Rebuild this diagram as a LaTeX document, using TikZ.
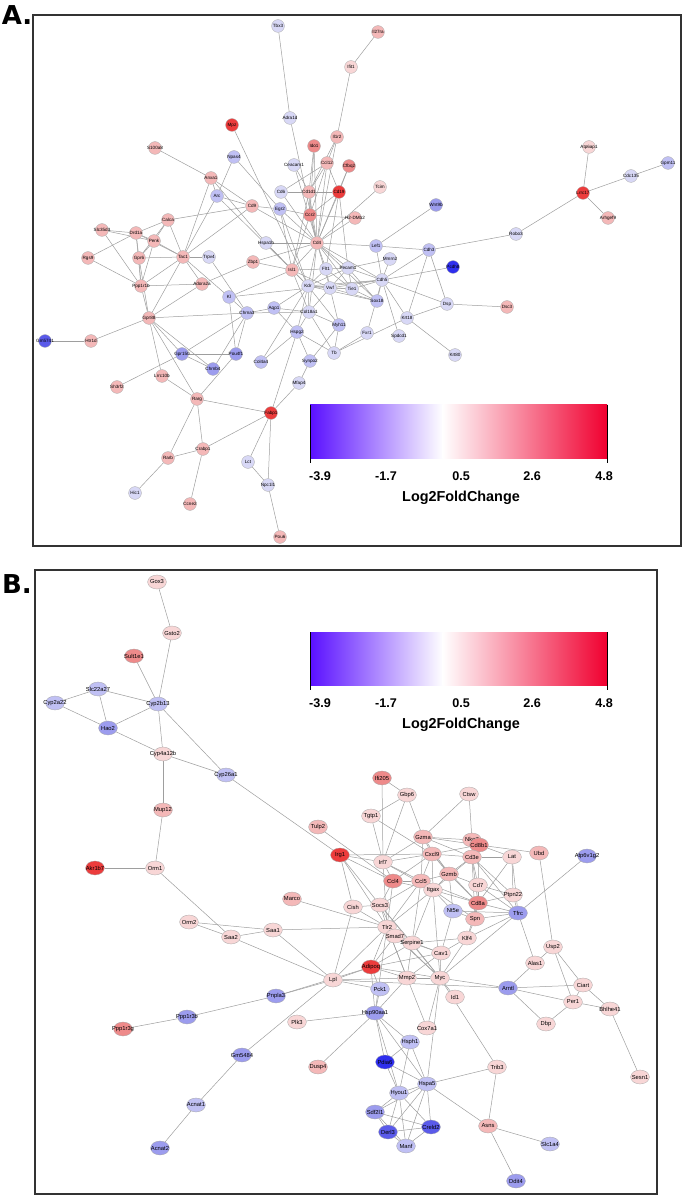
\documentclass[tikz,border=0pt]{standalone}
\usepackage{fontspec}
\setmainfont{Liberation Sans}
\newfontfamily\heavyfont{DejaVu Sans}
\usetikzlibrary{shapes.geometric,backgrounds}
\definecolor{rA}{HTML}{F8D6D6}
\definecolor{rB}{HTML}{F4B8B8}
\definecolor{rC}{HTML}{EE8A8A}
\definecolor{rD}{HTML}{EC3C3C}
\definecolor{bA}{HTML}{D8D8F6}
\definecolor{bB}{HTML}{C0C0F4}
\definecolor{bC}{HTML}{9C9CEE}
\definecolor{bD}{HTML}{5A5AEA}
\definecolor{bE}{HTML}{2E2EEE}
\definecolor{edgegray}{HTML}{9E9E9E}
\definecolor{cbblue}{HTML}{5A10FF}
\definecolor{cbred}{HTML}{F00030}
\tikzset{
  gna/.style={circle,draw=black!35,line width=0.15pt,minimum size=6.4pt,inner sep=0pt},
  gnb/.style={ellipse,draw=black!35,line width=0.15pt,minimum width=9.4pt,minimum height=7pt,inner sep=0pt},
  lbla/.style={font=\fontsize{2.3}{2.5}\selectfont,inner sep=0pt},
  lblb/.style={font=\fontsize{2.9}{3.1}\selectfont,inner sep=0pt},
  edge/.style={draw=edgegray,line width=0.25pt},
  frame/.style={draw=black!80,line width=0.6pt},
  panellabel/.style={font=\heavyfont\bfseries\fontsize{13}{13}\selectfont,inner sep=0pt},
  ticklab/.style={font=\bfseries\fontsize{6.3}{7}\selectfont,inner sep=0pt},
  cbtitle/.style={font=\bfseries\fontsize{7.2}{8}\selectfont,inner sep=0pt},
}
\begin{document}
\begin{tikzpicture}[x=0.5pt,y=-0.5pt]
\useasboundingbox (0,0) rectangle (685,1197);
\node[panellabel] (labA) at (17,15) {A.};
\node[panellabel] (labB) at (17,584) {B.};
\draw[frame] (33,15) rectangle (681,546);
\draw[frame] (35,570) rectangle (657,1194);

% ---------- colour bars ----------
\foreach \yt/\nm in {405/A,632/B}{
  \shade[left color=cbblue,right color=white] (310,\yt) rectangle (443,\yt+53);
  \shade[left color=white,right color=cbred] (442.5,\yt) rectangle (607,\yt+53);
  \draw[black,line width=0.5pt] (310,\yt) -- (310,\yt+58);
  \draw[black,line width=0.5pt] (607,\yt) -- (607,\yt+58);
  \node[ticklab] (t1\nm) at (320,\yt+71) {-3.9};
  \node[ticklab] (t2\nm) at (386,\yt+71) {-1.7};
  \node[ticklab] (t3\nm) at (461,\yt+71) {0.5};
  \node[ticklab] (t4\nm) at (532,\yt+71) {2.6};
  \node[ticklab] (t5\nm) at (604,\yt+71) {4.8};
  \node[cbtitle] (ct\nm) at (461,\yt+93) {Log2FoldChange};
}

% ---------- panel A nodes ----------
\foreach \n/\xx/\yy/\c/\t in {
Tbx3/278/26/bA/Tbx3, Adra1d/290/118/bA/Adra1d, Il27ra/378/32/rB/Il27ra, Ifit1/351/67/rA/Ifit1,
Mpz/232/125/rD/Mpz, S100a8/155/148/rB/S100a8, Npas4/234/157/bB/Npas4, Ceacam1/294/165/bA/Ceacam1,
Ido1/314/146/rC/Ido1, Ccl12/327/163/rB/Ccl12, Il1r2/337/137/rB/Il1r2, Cfbq2/349/166/rC/Cfbq2,
Anxa1/211/178/rB/Anxa1, Cd6/281/192/bA/Cd6, Cd1d1/309/192/rB/Cd1d1, Cd19/339/192/rD/Cd19,
Arc/217/196/bB/Arc, Tcim/380/187/rA/Tcim, Cd9/252/206/rB/Cd9, Egr2/280/209/bB/Egr2,
Ccr2/310/215/rC/Ccr2, H2DMb2/355/218/rB/H2-DMb2, Wnt9b/436/205/bC/Wnt9b, Hspa1b/266/243/bA/Hspa1b,
Cd4/317/243/rB/Cd4, Lef1/376/246/bB/Lef1, Cdh3/429/250/bB/Cdh3, Robo3/516/234/bA/Robo3,
Zbp1/253/262/rB/Zbp1, Isl1/292/270/rB/Isl1, Flt1/326/269/bA/Flt1, Pecam1/348/268/bA/Pecam1,
Mmrn2/390/259/bA/Mmrn2, Pcdh8/453/267/bE/Pcdh8, Kdr/308/286/bA/Kdr, Vwf/330/288/bA/Vwf,
Tie1/352/289/bA/Tie1, Cdh5/382/280/bA/Cdh5, Sox18/377/301/bB/Sox18, Dsp/447/304/bA/Dsp,
Dsc3/507/307/rB/Dsc3, Aqp1/274/308/bB/Aqp1, Col18a1/309/312/bA/Col18a1, Chrna3/247/313/bB/Chrna3,
Myh11/339/325/bB/Myh11, Krt18/407/318/bA/Krt18, Hspg2/297/332/bB/Hspg2, Fxr1/367/333/bA/Fxr1,
Spdcd1/399/336/bA/Spdcd1, Krt80/455/355/bA/Krt80, Tb/334/353/bA/Tb, Pou4f1/236/354/bC/Pou4f1,
Col4a4/261/362/bB/Col4a4, Synpo2/310/361/bB/Synpo2, Mfap4/299/383/bA/Mfap4, Calca/168/220/rB/Calca,
Slc35d3/102/230/rB/Slc35d3, Drd1a/136/233/rB/Drd1a, Penk/154/241/rB/Penk, Rgs9/88/258/rB/Rgs9,
Gpr6/139/258/rB/Gpr6, Tac1/183/257/rB/Tac1, Trpv4/209/257/bA/Trpv4, Ppp1r1b/141/286/rB/Ppp1r1b,
Adora2a/202/284/rB/Adora2a, Kl/229/297/bB/Kl, Gpr88/149/318/rB/Gpr88, Gm5741/45/341/bD/Gm5741,
Htr1d/91/341/rB/Htr1d, Gpr150/182/354/bC/Gpr150, Chrnb4/213/369/bC/Chrnb4, Lrrc10b/162/376/rB/Lrrc10b,
Sh3rf2/117/387/rB/Sh3rf2, Rarg/197/399/rB/Rarg, Fabp1/271/413/rD/Fabp1, Crabp1/203/449/rB/Crabp1,
Rarb/168/458/rB/Rarb, Lct/248/462/bA/Lct, Npc1l1/268/485/bA/Npc1l1, Hic1/135/493/bA/Hic1,
Ccne2/190/504/rB/Ccne2, Pou6/280/537/rB/Pou6, Lrrc17/583/193/rD/Lrrc17, Atp6ap1/589/147/rA/Atp6ap1,
Cdc135/631/176/bA/Cdc135, Arhgef9/608/218/rB/Arhgef9, Gpm11/668/163/bB/Gpm11}
  \node[gna,fill=\c,label={[lbla]center:\t}] (\n) at (\xx,\yy) {};

% ---------- panel B nodes ----------
\foreach \n/\xx/\yy/\c/\t in {
Gox3/157/582/rA/Gox3, Gsto2/172/633/rA/Gsto2, Sult1e1/134/656/rC/Sult1e1, Slc22a27/98/689/bB/Slc22a27,
Cyp2a22/55/703/bB/Cyp2a22, Cyp2b13/158/704/bB/Cyp2b13, Hao2/108/728/bC/Hao2, Cyp4a12b/163/754/rA/Cyp4a12b,
Cyp26a1/226/775/bB/Cyp26a1, Mup12/163/810/rB/Mup12, Orm1/155/868/rA/Orm1, Akr1b7/95/868/rD/Akr1b7,
Orm2/189/922/rA/Orm2, Saa2/231/937/rA/Saa2, Saa1/273/930/rA/Saa1, Marco/292/899/rB/Marco,
Tulp2/318/827/rB/Tulp2, Irg1/340/855/rD/Irg1, Lpl/333/980/rA/Lpl, Pnpla3/276/996/bC/Pnpla3,
Ppp1r3b/187/1017/bC/Ppp1r3b, Ppp1r3g/123/1029/rC/Ppp1r3g, Plk3/297/1022/rA/Plk3, Gm5484/242/1055/bC/Gm5484,
Acnat1/196/1105/bB/Acnat1, Acnat2/160/1148/bC/Acnat2, Ifi205/382/778/rC/Ifi205, Gbp6/407/795/rA/Gbp6,
Ctsw/469/794/rA/Ctsw, Tgtp1/371/816/rA/Tgtp1, Gzma/423/837/rB/Gzma, Nkg7/472/840/rB/Nkg7,
Cd8b1/479/845/rC/Cd8b1, Irf7/383/862/rA/Irf7, Cxcl9/432/854/rB/Cxcl9, Cd3e/472/857/rB/Cd3e,
Lat/512/857/rA/Lat, Ubd/539/853/rB/Ubd, Atp6v1g2/587/856/bC/Atp6v1g2, Gzmb/449/874/rB/Gzmb,
Ccl4/393/881/rC/Ccl4, Ccl5/421/881/rB/Ccl5, Cd7/478/885/rA/Cd7, Itgax/433/890/rA/Itgax,
Ptpn22/513/895/rA/Ptpn22, Cd8a/478/903/rC/Cd8a, Cish/353/907/rA/Cish, Socs3/380/905/rA/Socs3,
Nt5e/453/911/bB/Nt5e, Tfrc/518/913/bC/Tfrc, Spn/475/919/rB/Spn, Tlr2/387/927/rA/Tlr2,
Smad7/395/936/rA/Smad7, Serpine1/412/943/rA/Serpine1, Klf4/467/938/rA/Klf4, Usp2/553/947/rA/Usp2,
Cav1/441/953/rA/Cav1, Alas1/535/963/rA/Alas1, Adipoq/371/967/rD/Adipoq, Mmp2/407/978/rA/Mmp2,
Myc/440/978/rA/Myc, Arntl/508/988/bC/Arntl, Pck1/380/989/bB/Pck1, Ciart/583/985/rA/Ciart,
Id1/455/997/rA/Id1, Per1/573/1002/rA/Per1, Bhlhe41/610/1009/rA/Bhlhe41, Hsp90aa1/375/1013/bC/Hsp90aa1,
Dbp/546/1024/rA/Dbp, Cox7a1/427/1028/rA/Cox7a1, Hsph1/410/1042/bB/Hsph1, Sesn1/640/1077/rA/Sesn1,
Dusp4/318/1067/rB/Dusp4, Pdia6/385/1062/bE/Pdia6, Trib3/497/1067/rA/Trib3, Hspa5/427/1084/bB/Hspa5,
Hyou1/399/1093/bB/Hyou1, Sdf2l1/375/1112/bC/Sdf2l1, Creld2/431/1127/bD/Creld2, Asns/488/1126/rB/Asns,
Derl3/388/1132/bD/Derl3, Manf/406/1146/bB/Manf, Slc1a4/550/1144/bB/Slc1a4, Ddit4/516/1181/bC/Ddit4}
  \node[gnb,fill=\c,label={[lblb]center:\t}] (\n) at (\xx,\yy) {};

\begin{pgfonlayer}{background}
% ---------- panel A edges ----------
\foreach \a/\b in {
Tbx3/Adra1d, Adra1d/Cd4, Il27ra/Ifit1, Ifit1/Il1r2, Il1r2/Ccl12, Il1r2/Cd1d1, Il1r2/Cd4, Mpz/Kdr,
S100a8/Anxa1, Npas4/Arc, Npas4/Egr2, Anxa1/Cd9, Anxa1/Hspa1b, Anxa1/Tac1, Anxa1/Arc,
Ceacam1/Cd4, Ceacam1/Cd1d1, Ido1/Cd4, Ido1/Cd1d1, Ido1/Ccr2, Ccl12/Cd6, Ccl12/Cd1d1, Ccl12/Cd4,
Ccl12/Ccr2, Ccl12/Cd19, Cfbq2/Cd19, Cfbq2/Cd4, Cd19/Cd1d1, Cd19/Ccr2, Cd19/Cd4, Cd19/Pecam1, Cd19/Flt1,
Cd6/Cd4, Cd6/Cd1d1, Cd1d1/Cd4, Cd1d1/Ccr2, Cd1d1/Isl1, Ccr2/Cd4, Ccr2/Egr2, Ccr2/Isl1, Tcim/Cd4,
H2DMb2/Cd4, H2DMb2/Ccr2, Arc/Cd9, Arc/Tac1, Arc/Isl1, Cd9/Egr2, Cd9/Cd4, Cd9/Calca, Cd9/Tac1,
Egr2/Cd4, Egr2/Isl1, Egr2/Kdr, Wnt9b/Lef1, Hspa1b/Cd4, Hspa1b/Isl1, Hspa1b/Kdr, Cd4/Lef1, Cd4/Isl1,
Cd4/Flt1, Cd4/Pecam1, Cd4/Kdr, Cd4/Cdh5, Cd4/Zbp1, Cd4/Vwf, Cd4/Tie1, Cd4/Col18a1, Cd4/Sox18,
Lef1/Cdh3, Lef1/Cdh5, Cdh3/Robo3, Cdh3/Cdh5, Cdh3/Dsp, Cdh3/Krt18, Robo3/Lrrc17,
Lrrc17/Atp6ap1, Lrrc17/Cdc135, Lrrc17/Arhgef9, Cdc135/Gpm11, Zbp1/Isl1, Zbp1/Adora2a, Isl1/Flt1,
Isl1/Kdr, Isl1/Col18a1, Isl1/Vwf, Flt1/Pecam1, Flt1/Kdr, Flt1/Vwf, Flt1/Tie1, Pecam1/Mmrn2,
Pecam1/Kdr, Pecam1/Vwf, Pecam1/Tie1, Pecam1/Cdh5, Pecam1/Sox18, Mmrn2/Cdh5, Pcdh8/Cdh5, Kdr/Vwf,
Kdr/Tie1, Kdr/Cdh5, Kdr/Col18a1, Kdr/Aqp1, Kdr/Hspg2, Kdr/Sox18, Kdr/Myh11, Vwf/Tie1, Vwf/Cdh5,
Vwf/Myh11, Vwf/Col18a1, Vwf/Sox18, Tie1/Cdh5, Tie1/Sox18, Cdh5/Sox18, Cdh5/Dsp, Cdh5/Krt18,
Cdh5/Spdcd1, Cdh5/Fxr1, Kl/Cdh5, Dsp/Dsc3, Dsp/Krt18, Krt18/Krt80, Krt18/Tb, Aqp1/Chrna3,
Aqp1/Col18a1, Aqp1/Hspg2, Col18a1/Chrna3, Col18a1/Hspg2, Col18a1/Tb, Col18a1/Myh11, Chrna3/Kl,
Chrna3/Gpr88, Chrna3/Pou4f1, Chrna3/Chrnb4, Chrna3/Gpr150, Hspg2/Col4a4, Hspg2/Tb, Hspg2/Synpo2,
Myh11/Tb, Myh11/Synpo2, Fxr1/Tb, Synpo2/Mfap4, Mfap4/Fabp1, Hspg2/Fabp1,
Calca/Drd1a, Calca/Penk, Calca/Tac1, Calca/Gpr6, Slc35d3/Drd1a, Slc35d3/Penk, Slc35d3/Ppp1r1b,
Drd1a/Penk, Drd1a/Gpr6, Drd1a/Tac1, Drd1a/Rgs9, Drd1a/Ppp1r1b, Penk/Tac1, Penk/Gpr6, Penk/Ppp1r1b,
Rgs9/Ppp1r1b, Gpr6/Tac1, Gpr6/Ppp1r1b, Gpr6/Gpr88, Tac1/Ppp1r1b, Tac1/Trpv4, Tac1/Kl, Tac1/Gpr88,
Tac1/Adora2a, Trpv4/Chrna3, Ppp1r1b/Adora2a, Ppp1r1b/Gpr88, Adora2a/Gpr88, Gpr88/Htr1d,
Gpr88/Gpr150, Gpr88/Chrnb4, Gpr88/Lrrc10b, Gpr88/Rarg, Gm5741/Htr1d, Gpr150/Pou4f1, Gpr150/Chrnb4,
Gpr150/Sh3rf2, Pou4f1/Rarg, Pou4f1/Kl, Lrrc10b/Rarg, Rarg/Fabp1, Rarg/Crabp1, Rarg/Rarb,
Crabp1/Rarb, Crabp1/Fabp1, Crabp1/Ccne2, Rarb/Hic1, Fabp1/Lct, Fabp1/Npc1l1, Lct/Npc1l1,
Npc1l1/Pou6, Kl/Isl1, Col4a4/Kdr}
  \draw[edge] (\a) -- (\b);
% ---------- panel B edges ----------
\foreach \a/\b in {
Gox3/Gsto2, Gsto2/Cyp2b13, Sult1e1/Cyp2b13, Slc22a27/Cyp2a22, Slc22a27/Hao2, Slc22a27/Cyp2b13,
Cyp2a22/Hao2, Hao2/Cyp2b13, Hao2/Cyp4a12b, Cyp2b13/Cyp4a12b, Cyp2b13/Cyp26a1, Cyp4a12b/Cyp26a1,
Cyp4a12b/Mup12, Cyp26a1/Irg1, Mup12/Orm1, Akr1b7/Orm1, Orm1/Saa2, Orm2/Saa2, Orm2/Saa1, Saa2/Saa1,
Saa2/Lpl, Saa1/Lpl, Saa1/Tlr2, Marco/Tlr2, Tulp2/Ccl4, Lpl/Pnpla3, Lpl/Adipoq, Lpl/Pck1, Lpl/Arntl,
Lpl/Gm5484, Lpl/Mmp2, Lpl/Tlr2, Lpl/Cish, Pnpla3/Ppp1r3b, Pnpla3/Adipoq, Ppp1r3b/Ppp1r3g,
Gm5484/Acnat1, Acnat1/Acnat2, Plk3/Hsp90aa1, Dusp4/Hsp90aa1,
Ifi205/Gbp6, Ifi205/Irf7, Gbp6/Tgtp1, Gbp6/Irf7, Gbp6/Gzma, Tgtp1/Irf7, Tgtp1/Cxcl9, Ctsw/Gzma,
Ctsw/Nkg7, Irg1/Irf7, Irg1/Cxcl9, Irg1/Cish, Irg1/Ccl4, Irg1/Socs3, Irg1/Tlr2, Irf7/Cxcl9, Irf7/Ccl5,
Irf7/Ccl4, Irf7/Gzma, Irf7/Itgax, Irf7/Tlr2, Gzma/Cxcl9, Gzma/Gzmb, Gzma/Ccl5, Gzma/Nkg7, Gzma/Cd8b1,
Gzma/Cd3e, Nkg7/Cd8b1, Nkg7/Cd3e, Cd8b1/Lat, Cd8b1/Ubd, Cd8b1/Cd3e, Cd8b1/Cd8a, Cd8b1/Cxcl9,
Cd3e/Lat, Cd3e/Cd8a, Cd3e/Cd7, Cd3e/Ptpn22, Cd3e/Tfrc, Cd3e/Cxcl9, Cd3e/Gzmb, Cd3e/Itgax, Cd3e/Spn,
Lat/Ptpn22, Lat/Cd8a, Lat/Tfrc, Ubd/Usp2, Atp6v1g2/Tfrc, Cxcl9/Ccl5, Cxcl9/Ccl4, Cxcl9/Gzmb,
Cxcl9/Itgax, Cxcl9/Cd8a, Gzmb/Ccl5, Gzmb/Itgax, Gzmb/Cd8a, Gzmb/Nt5e, Gzmb/Cd7, Ccl4/Ccl5,
Ccl4/Socs3, Ccl4/Tlr2, Ccl4/Itgax, Ccl5/Itgax, Ccl5/Tlr2, Ccl5/Socs3, Ccl5/Cd8a, Ccl5/Serpine1,
Cd7/Cd8a, Cd7/Ptpn22, Cd7/Tfrc, Itgax/Nt5e, Itgax/Spn, Itgax/Tlr2, Itgax/Cd8a, Itgax/Serpine1,
Itgax/Myc, Ptpn22/Cd8a, Ptpn22/Tfrc, Cd8a/Spn, Cd8a/Tfrc, Cd8a/Klf4, Cish/Socs3, Cish/Tlr2,
Socs3/Tlr2, Socs3/Smad7, Socs3/Myc, Socs3/Serpine1, Nt5e/Tfrc, Nt5e/Cav1, Nt5e/Spn, Tfrc/Spn,
Tfrc/Klf4, Tfrc/Alas1, Tfrc/Myc, Spn/Klf4, Tlr2/Smad7, Tlr2/Serpine1, Tlr2/Adipoq, Tlr2/Myc,
Tlr2/Mmp2, Tlr2/Hsp90aa1, Smad7/Serpine1, Smad7/Adipoq, Smad7/Myc, Smad7/Cav1, Serpine1/Cav1,
Serpine1/Mmp2, Serpine1/Myc, Serpine1/Adipoq, Serpine1/Klf4, Klf4/Cav1, Klf4/Myc, Cav1/Myc,
Cav1/Mmp2, Cav1/Adipoq, Adipoq/Pck1, Adipoq/Mmp2, Adipoq/Myc, Mmp2/Myc, Mmp2/Hsp90aa1, Myc/Id1,
Myc/Arntl, Myc/Cox7a1, Pck1/Hsp90aa1, Arntl/Alas1, Arntl/Ciart, Arntl/Per1, Arntl/Dbp, Alas1/Usp2,
Usp2/Ciart, Usp2/Per1, Ciart/Per1, Ciart/Bhlhe41, Per1/Dbp, Per1/Bhlhe41, Bhlhe41/Sesn1,
Cox7a1/Tlr2, Trib3/Myc, Hspa5/Myc, Hsp90aa1/Hsph1, Hsp90aa1/Hspa5, Hsp90aa1/Pdia6, Hsp90aa1/Hyou1,
Hsp90aa1/Adipoq, Hspa5/Hsph1, Hspa5/Pdia6, Hspa5/Hyou1, Hspa5/Sdf2l1, Hspa5/Derl3, Hspa5/Creld2,
Hspa5/Manf, Hspa5/Trib3, Hspa5/Asns, Hyou1/Sdf2l1, Hyou1/Derl3, Hyou1/Creld2, Hyou1/Manf,
Hyou1/Pdia6, Hyou1/Hsph1, Sdf2l1/Derl3, Sdf2l1/Creld2, Sdf2l1/Manf, Derl3/Creld2, Derl3/Manf,
Creld2/Manf, Pdia6/Hsph1, Trib3/Asns, Asns/Slc1a4, Asns/Ddit4}
  \draw[edge] (\a) -- (\b);
\end{pgfonlayer}
\end{tikzpicture}
\end{document}
